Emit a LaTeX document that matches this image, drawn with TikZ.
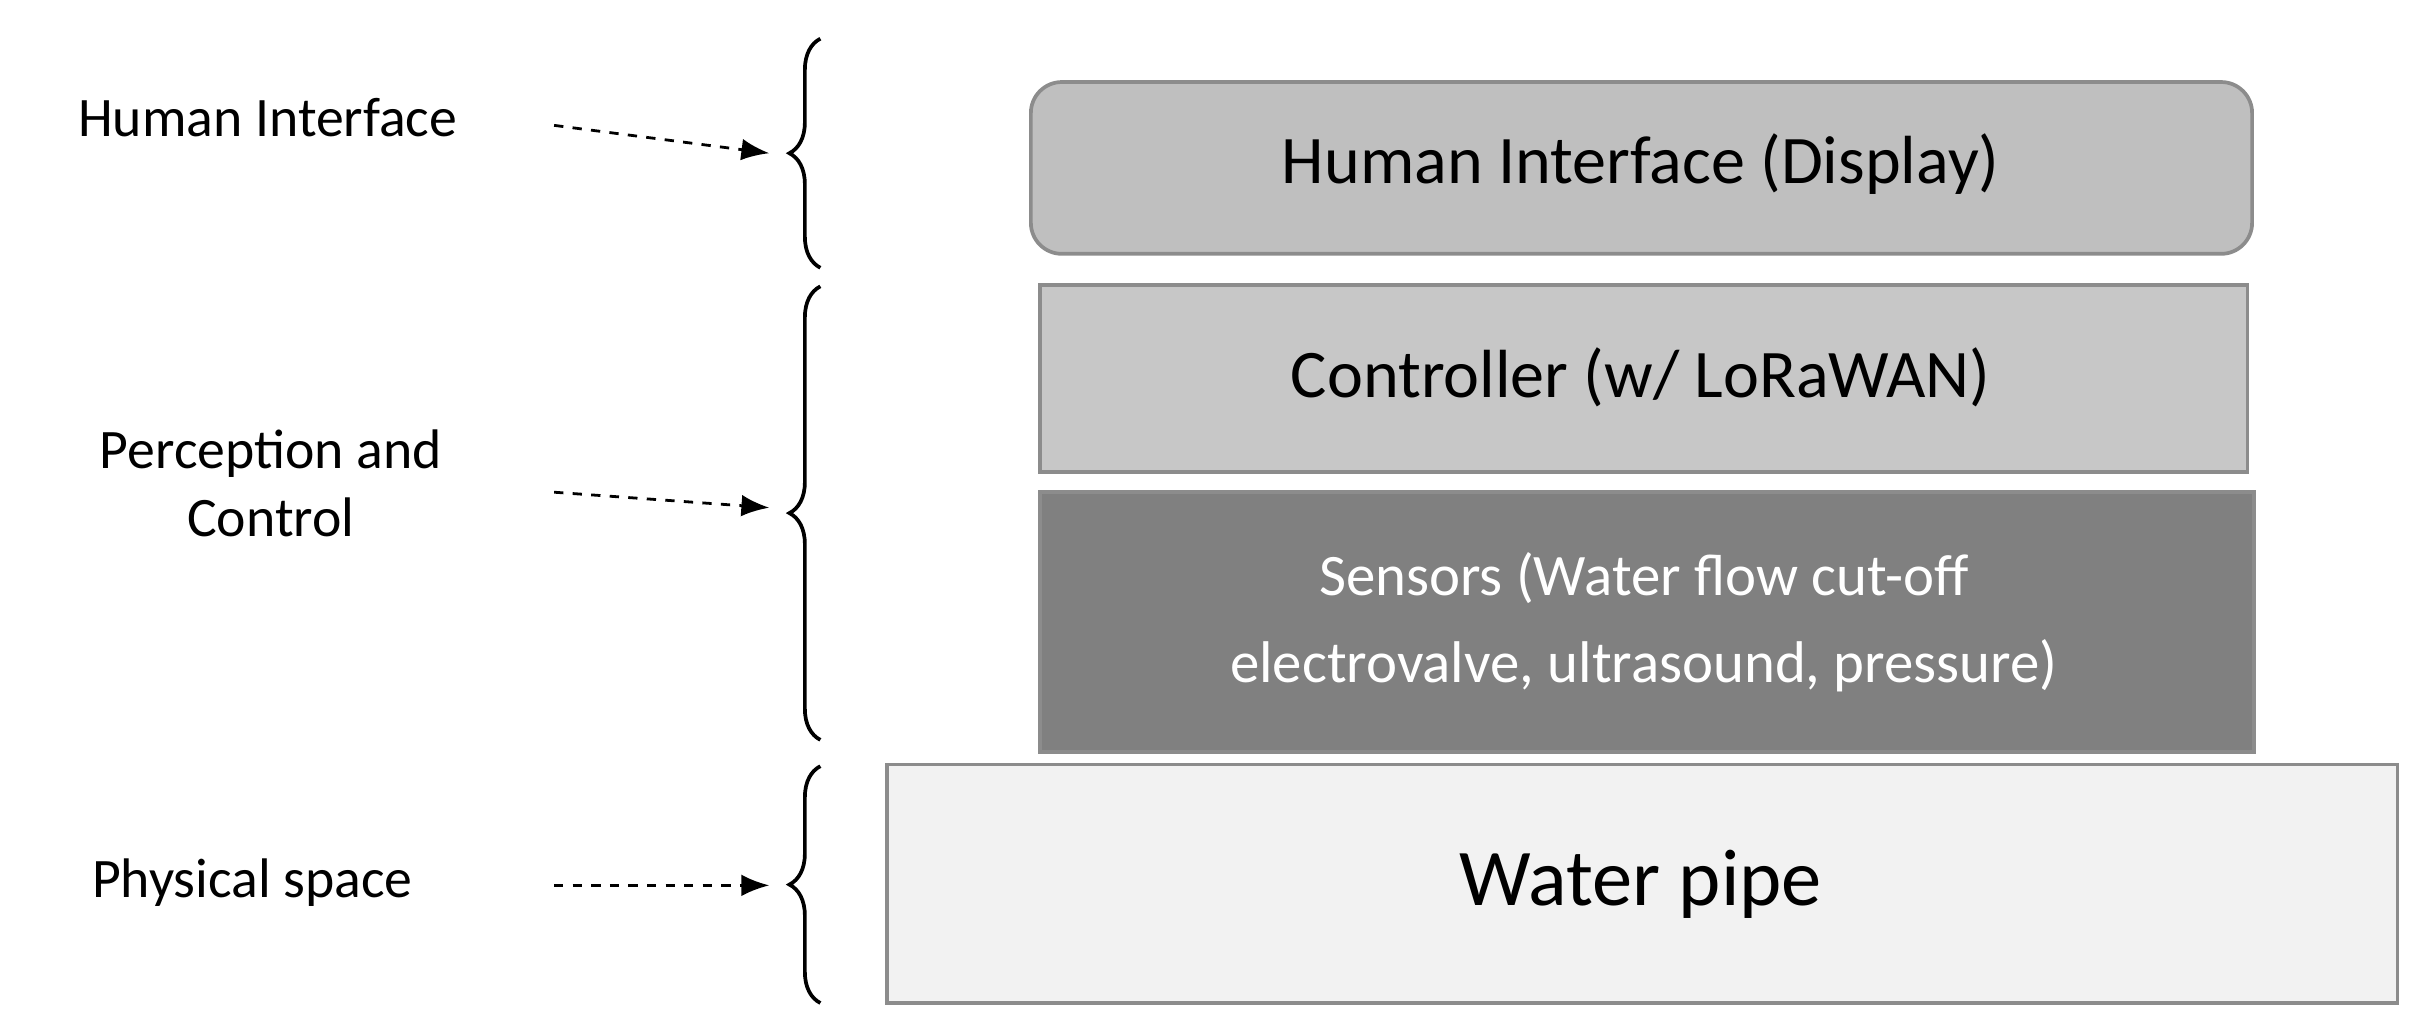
\documentclass[tikz,border=0pt]{standalone}
\usepackage{fontspec}
\setmainfont{Carlito}
\usetikzlibrary{decorations.pathreplacing,arrows.meta}
\begin{document}
\begin{tikzpicture}[x=0.5pt,y=-0.5pt,
 box/.style={draw=black!45,line width=1.2pt,inner sep=0},
 lab/.style={font=\fontsize{18}{22}\selectfont,align=center},
 br/.style={decorate,decoration={brace,amplitude=10pt},line width=1.2pt},
 arr/.style={dashed,line width=0.9pt,-{Latex[length=9pt,width=7pt]}}]
\useasboundingbox (0,0) rectangle (1568,668);
\draw[box,fill=black!25,rounded corners=10pt] (666,53) rectangle (1455,164);
\node[font=\fontsize{22}{26}\selectfont] (hi) at (1060,106) {Human Interface (Display)};
\draw[box,fill=black!22] (672,184) rectangle (1452,305);
\node[font=\fontsize{22}{26}\selectfont] (ct) at (1060,244) {Controller (w/ LoRaWAN)};
\draw[box,fill=black!50] (672,318) rectangle (1456,486);
\node[font=\fontsize{19}{28}\selectfont,align=center,text=white] (se) at (1062,402) {Sensors (Water flow cut-off\\electrovalve, ultrasound, pressure)};
\draw[box,fill=black!5] (573,494) rectangle (1549,648);
\node[font=\fontsize{26}{30}\selectfont] (wp) at (1060,571) {Water pipe};
\node[lab] (l1) at (173,76) {Human Interface};
\node[lab] (l2) at (175,312) {Perception and\\Control};
\node[lab] (l3) at (163,570) {Physical space};
\coordinate (b1a) at (530,173); \coordinate (b1b) at (530,25);
\coordinate (b2a) at (530,478); \coordinate (b2b) at (530,185);
\coordinate (b3a) at (530,648); \coordinate (b3b) at (530,495);
\draw[br] (b1a) -- (b1b);
\draw[br] (b2a) -- (b2b);
\draw[br] (b3a) -- (b3b);
\coordinate (s1) at (358,81); \coordinate (t1) at (497,99);
\coordinate (s2) at (358,318); \coordinate (t2) at (497,328);
\coordinate (s3) at (358,572); \coordinate (t3) at (497,572);
\draw[arr] (s1) -- (t1);
\draw[arr] (s2) -- (t2);
\draw[arr] (s3) -- (t3);
\end{tikzpicture}
\end{document}
